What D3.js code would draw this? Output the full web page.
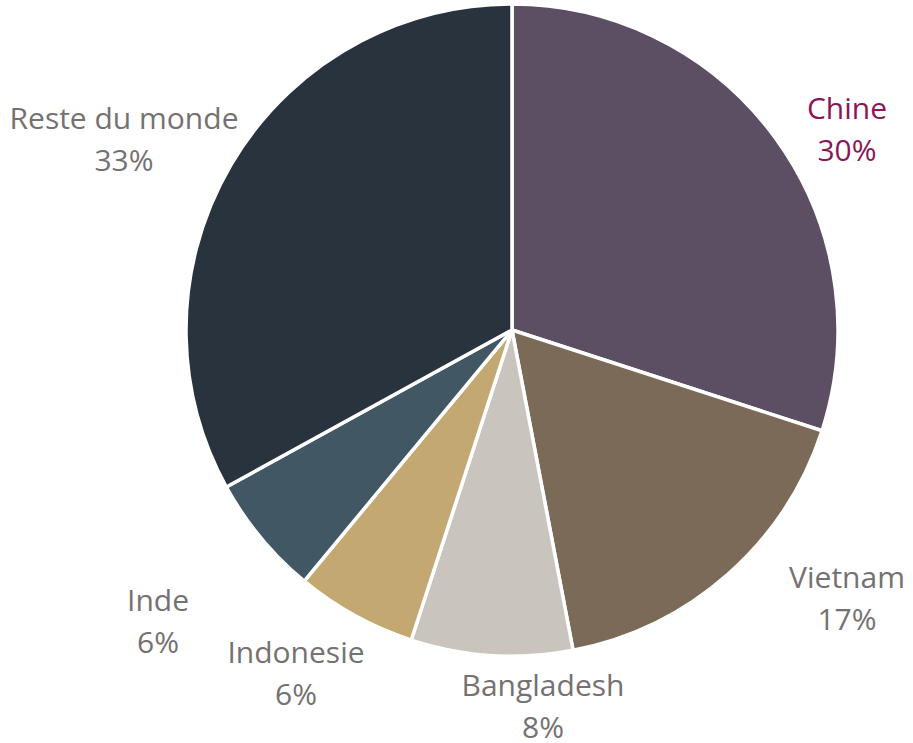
<!DOCTYPE html>
<html><head><meta charset="utf-8">
<script src="https://cdn.jsdelivr.net/npm/d3@7"></script>
<style>html,body{margin:0;padding:0;background:#fff;}svg{display:block;}</style>
</head><body>
<svg id="chart" width="913" height="743"></svg>
<script>
const categories = ["Chine", "Vietnam", "Bangladesh", "Indonesie", "Inde", "Reste du monde"];
const values = [30, 17, 8, 6, 6, 33];
const labels = ["30%", "17%", "8%", "6%", "6%", "33%"];

const colors = ["#5c4f63", "#7b6a57", "#cac4be", "#c4a872", "#425764", "#29333e"];
const labelColors = ["#8b1656", "#767171", "#767171", "#767171", "#767171", "#767171"];
// label anchor positions (centre x, first-line baseline y), layout only
const labelPos = {
  "Chine": [847, 119],
  "Vietnam": [847, 588],
  "Bangladesh": [543, 696],
  "Indonesie": [296, 663],
  "Inde": [158, 611],
  "Reste du monde": [124, 129]
};
const lineGap = 42;

const svg = d3.select("#chart");
const cx = 512, cy = 330, R = 326;
const data = categories.map((c, i) => ({cat: c, value: values[i], label: labels[i], i}));
const pie = d3.pie().sort(null).value(d => d.value);
const arc = d3.arc().innerRadius(0).outerRadius(R);
const g = svg.append("g").attr("transform", `translate(${cx},${cy})`);
g.selectAll("path").data(pie(data)).join("path")
  .attr("d", arc)
  .attr("fill", d => colors[d.data.i])
  .attr("stroke", "#fff")
  .attr("stroke-width", 3.5)
  .attr("stroke-linejoin", "round");

const lg = svg.append("g");
data.forEach(d => {
  const [x, y] = labelPos[d.cat];
  const t = lg.append("text")
    .attr("text-anchor", "middle")
    .attr("font-family", "'Open Sans', 'Noto Sans', sans-serif")
    .attr("font-size", 30)
    .attr("fill", labelColors[d.i]);
  t.append("tspan").attr("x", x).attr("y", y).text(d.cat);
  t.append("tspan").attr("x", x).attr("y", y + lineGap).text(d.label);
});
</script>
</body></html>
